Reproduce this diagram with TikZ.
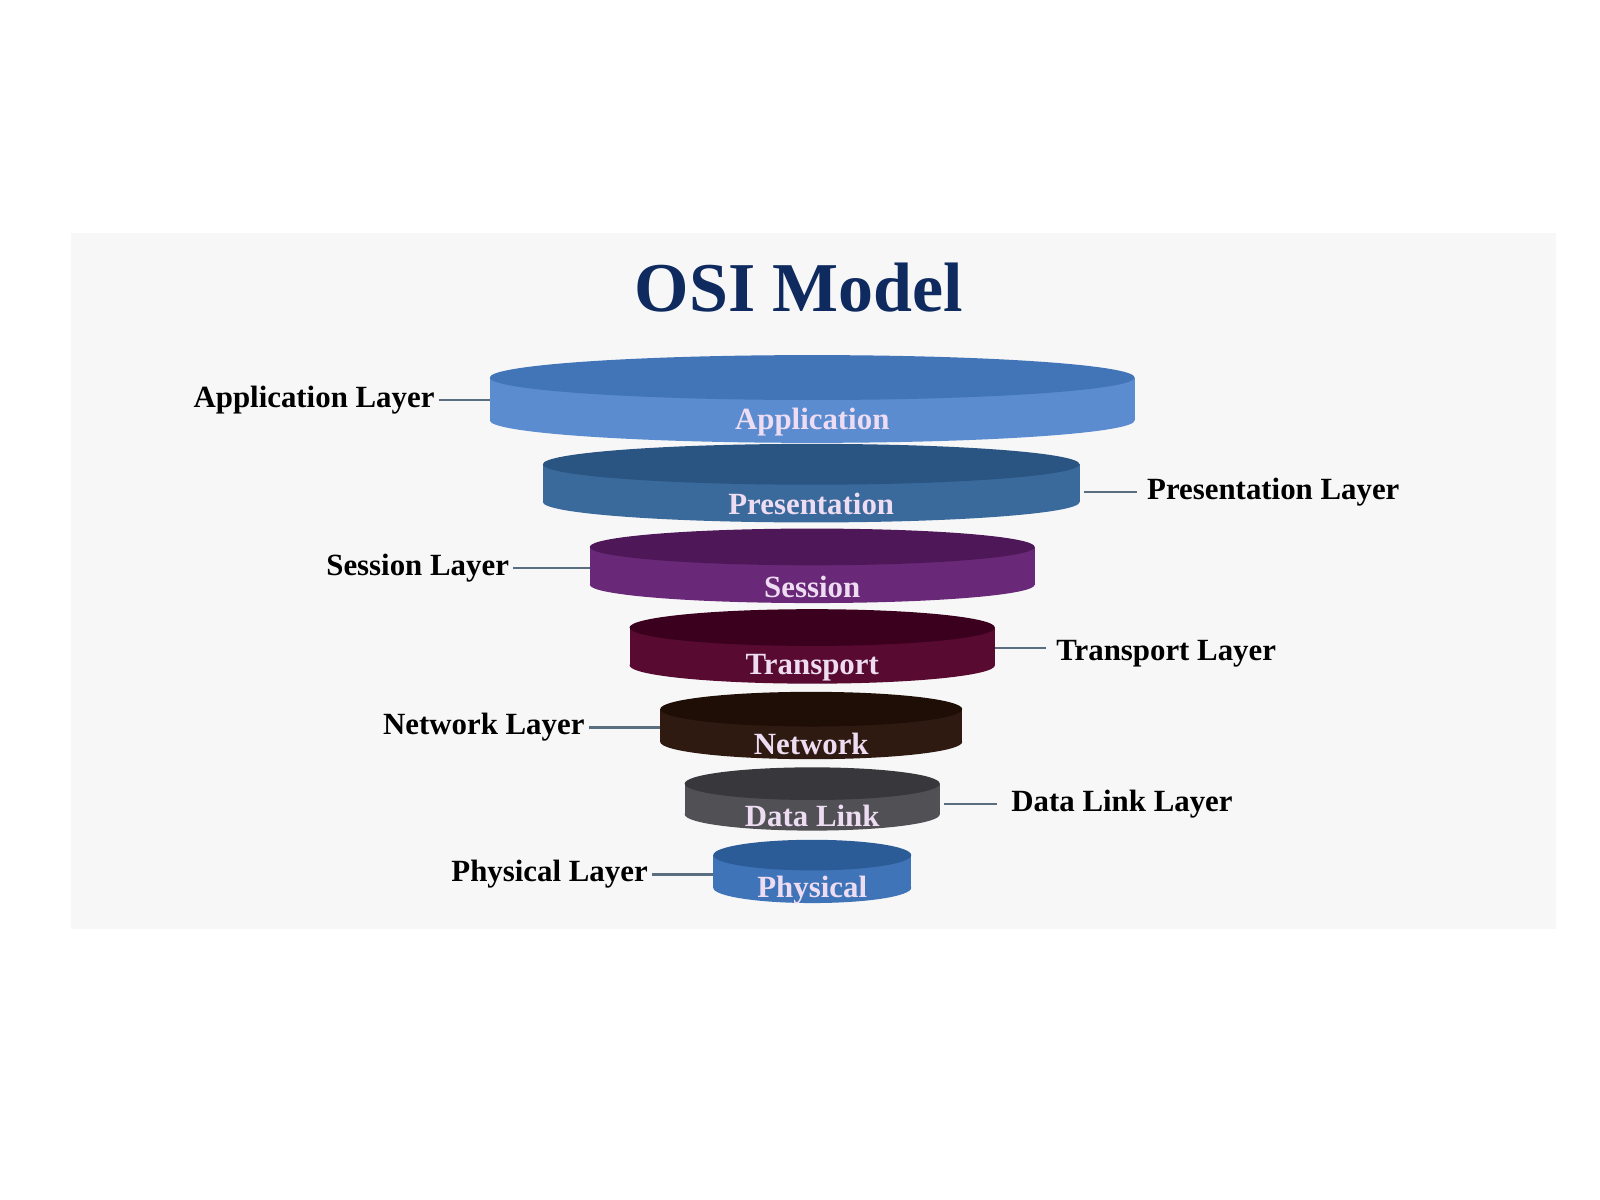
\documentclass[tikz,border=0pt]{standalone}
\usepackage{fontspec}
\setmainfont{Liberation Serif}
\usetikzlibrary{positioning}

\definecolor{panel}{HTML}{F7F7F8}
\definecolor{titleblue}{HTML}{0E2A5E}
\definecolor{disctext}{HTML}{EEDDF2}
\definecolor{leader}{HTML}{5A6E80}

\begin{document}
\begin{tikzpicture}[x=0.01cm,y=-0.01cm]
  \tikzset{laystyle/.style={font=\fontsize{8.6}{10}\selectfont\bfseries, text=black, inner sep=1pt},
           discstyle/.style={font=\fontsize{8.6}{10}\selectfont\bfseries, text=disctext, inner sep=0pt},
           leadstyle/.style={draw=leader, line width=0.6pt}}
  \useasboundingbox (0,0) rectangle (1568,1176);
  \fill[white] (0,0) rectangle (1568,1176);
  % background panel
  \fill[panel] (70,228) rectangle (1525,910);
  \node[font=\fontsize{19.5}{22}\selectfont\bfseries, text=titleblue] (title) at (783,282) {OSI Model};
  % discs: name / cx / rx / top / bottom / ry / top colour / side colour / text
  \foreach \nm/\cx/\rx/\yt/\yb/\ry/\ctop/\cside/\txt in {
      app/796/316/370/412/22/4274B8/5B8CD0/Application,
      pres/795/263/455/492/20/2A5582/3A699C/Presentation,
      sess/796/218/536/573/18/4E1858/6A2878/Session,
      trans/796/179/615/652/18/3A001E/580A30/Transport,
      net/795/148/695/727/17/1E0E06/2E1A10/Network,
      link/796/125/768/798/16/38383C/505055/Data Link,
      phys/796/97/838/870/15/2C5C98/3F74B8/Physical} {
    \definecolor{dtop}{HTML}{\ctop}
    \definecolor{dside}{HTML}{\cside}
    \fill[dside] (\cx-\rx,\yt) rectangle (\cx+\rx,\yb);
    \fill[dside] (\cx,\yb) ellipse [x radius=\rx*0.01cm, y radius=\ry*0.01cm];
    \fill[dtop] (\cx,\yt) ellipse [x radius=\rx*0.01cm, y radius=\ry*0.01cm];
    \coordinate (\nm-w) at (\cx-\rx,\yt+0.55*\yb-0.55*\yt);
    \coordinate (\nm-e) at (\cx+\rx,\yt+0.55*\yb-0.55*\yt);
    \node[discstyle] (\nm) at (\cx,\yb+2) {\txt};
  }
  % side labels
  \node[laystyle, anchor=east] (appl) at (430,392) {Application Layer};
  \node[laystyle, anchor=west] (presl) at (1120,482) {Presentation Layer};
  \node[laystyle, anchor=east] (sessl) at (503,557) {Session Layer};
  \node[laystyle, anchor=west] (transl) at (1031,641) {Transport Layer};
  \node[laystyle, anchor=east] (netl) at (577,713) {Network Layer};
  \node[laystyle, anchor=west] (linkl) at (987,788) {Data Link Layer};
  \node[laystyle, anchor=east] (physl) at (639,857) {Physical Layer};
  \draw[leadstyle] (appl.east) -- (app-w |- appl.east);
  \draw[leadstyle] (presl.west) ++(-6,0) -- ++(-52,0);
  \draw[leadstyle] (sessl.east) -- (sess-w |- sessl.east);
  \draw[leadstyle] (transl.west) ++(-6,-6) -- ++(-50,0);
  \draw[leadstyle] (netl.east) -- (net-w |- netl.east);
  \draw[leadstyle] (linkl.west) ++(-10,0) -- ++(-52,0);
  \draw[leadstyle] (physl.east) -- (phys-w |- physl.east);
\end{tikzpicture}
\end{document}
